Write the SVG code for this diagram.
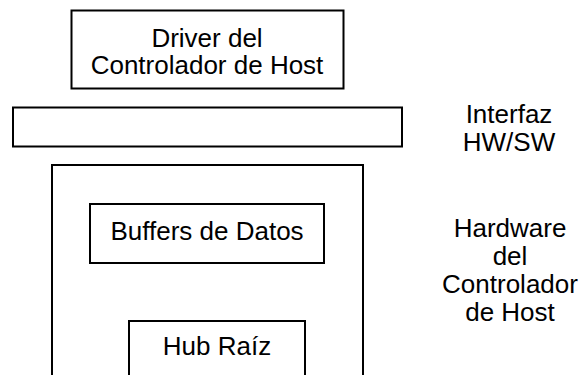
<svg xmlns="http://www.w3.org/2000/svg" width="581" height="375" viewBox="0 0 581 375">
  <style>
    .box { fill: #ffffff; stroke: #000000; stroke-width: 2; }
    .lbl { font-family: "Liberation Sans", Arial, sans-serif; font-size: 26px; fill: #000000; text-anchor: middle; }
  </style>
  <rect x="0" y="0" width="581" height="375" fill="#ffffff"/>

  <!-- Software side: host controller driver -->
  <g id="driver">
    <rect class="box" x="71.5" y="10.5" width="272" height="78"/>
    <text class="lbl" x="207" y="47">Driver del</text>
    <text class="lbl" x="207" y="74">Controlador de Host</text>
  </g>

  <!-- HW/SW interface layer -->
  <g id="interfaz">
    <rect class="box" x="13" y="107.5" width="389" height="39"/>
  </g>

  <!-- Host controller hardware enclosure -->
  <g id="hardware">
    <rect class="box" x="52" y="165" width="311" height="220"/>
  </g>

  <g id="buffers">
    <rect class="box" x="90" y="204" width="234" height="59"/>
    <text class="lbl" x="207" y="240">Buffers de Datos</text>
  </g>

  <g id="hub">
    <rect class="box" x="129" y="321" width="176" height="64"/>
    <text class="lbl" x="217" y="355">Hub Raíz</text>
  </g>

  <!-- Side captions -->
  <g id="caption-interfaz">
    <text class="lbl" x="509" y="123">Interfaz</text>
    <text class="lbl" x="509" y="151">HW/SW</text>
  </g>
  <g id="caption-hardware">
    <text class="lbl" x="510" y="237">Hardware</text>
    <text class="lbl" x="510" y="265">del</text>
    <text class="lbl" x="510" y="293">Controlador</text>
    <text class="lbl" x="510" y="321">de Host</text>
  </g>

  <g id="connectors"></g>
</svg>
